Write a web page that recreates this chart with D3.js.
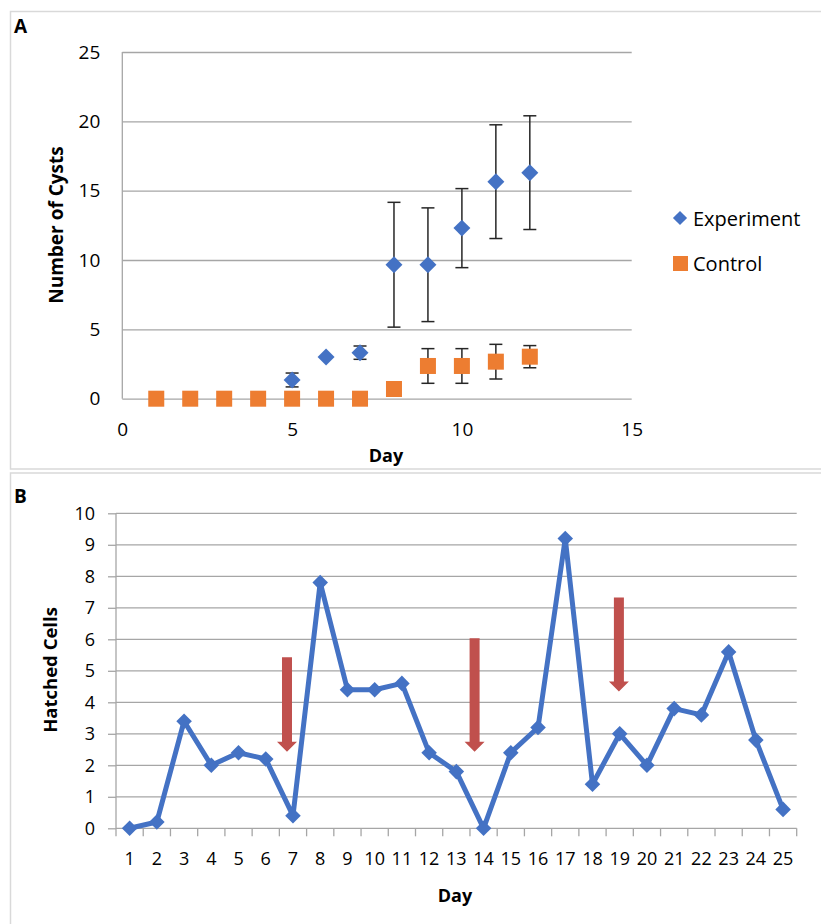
<!DOCTYPE html>
<html>
<head>
<meta charset="utf-8">
<script src="https://cdn.jsdelivr.net/npm/d3@7"></script>
<style>
  html, body { margin: 0; padding: 0; background: #fff; }
  svg { display: block; }
  text { font-family: "Open Sans", "DejaVu Sans", sans-serif; fill: #000; }
</style>
</head>
<body>
<svg id="chart" width="821" height="924"></svg>
<script>
// ---------------- Panel A data ----------------
const daysA = [1, 2, 3, 4, 5, 6, 7, 8, 9, 10, 11, 12];
const experimentDays = [5, 6, 7, 8, 9, 10, 11, 12];
const experimentValues = [1.35, 3.0, 3.32, 9.66, 9.66, 12.3, 15.65, 16.3];
const experimentErrors = [0.5, 0, 0.48, 4.5, 4.1, 2.85, 4.1, 4.1];
const controlValues = [0, 0, 0, 0, 0, 0, 0, 0.7, 2.36, 2.36, 2.67, 3.03];
const controlErrors = [0, 0, 0, 0, 0, 0, 0, 0, 1.25, 1.25, 1.25, 0.8];
const xTicksA = [0, 5, 10, 15];
const yTicksA = [0, 5, 10, 15, 20, 25];
const legendLabels = ["Experiment", "Control"];

// ---------------- Panel B data ----------------
const daysB = [1, 2, 3, 4, 5, 6, 7, 8, 9, 10, 11, 12, 13, 14, 15, 16, 17, 18, 19, 20, 21, 22, 23, 24, 25];
const hatchedCells = [0, 0.2, 3.4, 2.0, 2.4, 2.2, 0.4, 7.8, 4.4, 4.4, 4.6, 2.4, 1.8, 0, 2.4, 3.2, 9.2, 1.4, 3.0, 2.0, 3.8, 3.6, 5.6, 2.8, 0.6];
const yTicksB = [0, 1, 2, 3, 4, 5, 6, 7, 8, 9, 10];
// red arrows: position (in day units, fractional = between categories), start and tip value
const arrowDays = [6.78, 13.67, 18.97];
const arrowFrom = [5.43, 6.03, 7.33];
const arrowTo = [2.43, 2.43, 4.34];

const BLUE = "#4472C4", ORANGE = "#ED7D31", RED = "#C0504D";
const GRID = "#a6a6a6", FRAME = "#d9d9d9";

const svg = d3.select("#chart");
svg.append("rect").attr("width", 821).attr("height", 924).attr("fill", "#fff");

// panel frames
svg.append("rect").attr("x", 10.5).attr("y", 11.5).attr("width", 820).attr("height", 457.5)
  .attr("fill", "none").attr("stroke", FRAME).attr("stroke-width", 1.5);
svg.append("rect").attr("x", 10.5).attr("y", 473).attr("width", 820).attr("height", 460)
  .attr("fill", "none").attr("stroke", FRAME).attr("stroke-width", 1.5);

// ================= Panel A =================
const xA = d3.scaleLinear().domain([0, 15]).range([122.3, 631.7]);
const yA = d3.scaleLinear().domain([0, 25]).range([398.7, 52]);

svg.append("text").attr("x", 14).attr("y", 33).attr("font-size", 19).attr("font-weight", 700).text("A");

const gA = svg.append("g");
// gridlines + y labels
const yAxisA = gA.append("g").attr("transform", `translate(${xA(0)},0)`)
  .call(d3.axisLeft(yA).tickValues(yTicksA).tickSize(-(xA(15) - xA(0))).tickPadding(22));
yAxisA.select(".domain").remove();
yAxisA.selectAll(".tick line").attr("stroke", GRID).attr("stroke-width", 1.3);
yAxisA.selectAll(".tick text").attr("font-size", 19).attr("font-family", "Open Sans").attr("fill", "#000");
// y axis line
gA.append("line").attr("x1", xA(0)).attr("x2", xA(0)).attr("y1", yA(25)).attr("y2", yA(0))
  .attr("stroke", GRID).attr("stroke-width", 1.3);

const xAxisA = gA.append("g").attr("transform", `translate(0,${yA(0)})`)
  .call(d3.axisBottom(xA).tickValues(xTicksA).tickSize(0).tickPadding(24));
xAxisA.select(".domain").remove();
xAxisA.selectAll(".tick text").attr("font-size", 19).attr("font-family", "Open Sans").attr("fill", "#000");

gA.append("text").attr("x", 386).attr("y", 462).attr("text-anchor", "middle")
  .attr("font-size", 18).attr("font-weight", 700).text("Day");
gA.append("text").attr("transform", `translate(63,225) rotate(-90)`)
  .attr("text-anchor", "middle").attr("font-size", 19).attr("font-weight", 700).text("Number of Cysts");

// error bars helper
function errorBars(g, xs, vals, errs) {
  const cap = 6.5;
  xs.forEach((d, i) => {
    const e = errs[i];
    if (!e) return;
    const x = xA(d), y1 = yA(vals[i] + e), y2 = yA(vals[i] - e);
    g.append("line").attr("x1", x).attr("x2", x).attr("y1", y1).attr("y2", y2)
      .attr("stroke", "#262626").attr("stroke-width", 1.5);
    [y1, y2].forEach(y => g.append("line").attr("x1", x - cap).attr("x2", x + cap).attr("y1", y).attr("y2", y)
      .attr("stroke", "#262626").attr("stroke-width", 1.5));
  });
}
errorBars(gA, daysA, controlValues, controlErrors);
errorBars(gA, experimentDays, experimentValues, experimentErrors);

// control squares
gA.selectAll("rect.ctrl").data(daysA).enter().append("rect").attr("class", "ctrl")
  .attr("x", d => xA(d) - 8).attr("y", (d, i) => yA(controlValues[i]) - 8)
  .attr("width", 16).attr("height", 16).attr("fill", ORANGE);
// experiment diamonds
const diamondA = d3.symbol().type(d3.symbolSquare).size(144);
gA.selectAll("path.exp").data(experimentDays).enter().append("path").attr("class", "exp")
  .attr("d", diamondA)
  .attr("transform", (d, i) => `translate(${xA(d)},${yA(experimentValues[i])}) rotate(45)`)
  .attr("fill", BLUE);

// legend
const legend = svg.append("g");
legend.append("path").attr("d", d3.symbol().type(d3.symbolSquare).size(100))
  .attr("transform", "translate(680,218) rotate(45)").attr("fill", BLUE);
legend.append("text").attr("x", 693).attr("y", 226).attr("font-size", 20).text(legendLabels[0]);
legend.append("rect").attr("x", 673).attr("y", 256).attr("width", 15).attr("height", 15).attr("fill", ORANGE);
legend.append("text").attr("x", 693).attr("y", 271).attr("font-size", 20).text(legendLabels[1]);

// ================= Panel B =================
const xB = d3.scaleBand().domain(daysB).range([116, 796.7]);
const yB = d3.scaleLinear().domain([0, 10]).range([828.3, 513.3]);
const bw = xB.bandwidth();

svg.append("text").attr("x", 14).attr("y", 503).attr("font-size", 19).attr("font-weight", 700).text("B");

const gB = svg.append("g");
const yAxisB = gB.append("g").attr("transform", `translate(116,0)`)
  .call(d3.axisLeft(yB).tickValues(yTicksB).tickSize(8).tickPadding(13));
yAxisB.select(".domain").remove();
yAxisB.selectAll(".tick line").attr("stroke", GRID).attr("stroke-width", 1.3);
yAxisB.selectAll(".tick text").attr("font-size", 18).attr("font-family", "Open Sans").attr("fill", "#000");
// horizontal gridlines
gB.selectAll("line.gridB").data(yTicksB).enter().append("line").attr("class", "gridB")
  .attr("x1", 116).attr("x2", 796.7).attr("y1", d => yB(d)).attr("y2", d => yB(d))
  .attr("stroke", GRID).attr("stroke-width", 1.3);
gB.append("line").attr("x1", 116).attr("x2", 116).attr("y1", yB(10)).attr("y2", yB(0))
  .attr("stroke", GRID).attr("stroke-width", 1.3);

const xAxisB = gB.append("g").attr("transform", `translate(0,${yB(0)})`)
  .call(d3.axisBottom(xB).tickSize(0).tickPadding(23.5));
xAxisB.select(".domain").remove();
xAxisB.selectAll(".tick text").attr("font-size", 18).attr("font-family", "Open Sans").attr("fill", "#000");
// category boundary ticks
const boundaries = daysB.map(d => xB(d)).concat([xB.range()[1]]);
gB.selectAll("line.tickB").data(boundaries).enter().append("line").attr("class", "tickB")
  .attr("x1", d => d).attr("x2", d => d).attr("y1", yB(0)).attr("y2", yB(0) + 8)
  .attr("stroke", GRID).attr("stroke-width", 1.3);

gB.append("text").attr("x", 455).attr("y", 902).attr("text-anchor", "middle")
  .attr("font-size", 18).attr("font-weight", 700).text("Day");
gB.append("text").attr("transform", `translate(57,670) rotate(-90)`)
  .attr("text-anchor", "middle").attr("font-size", 18.5).attr("font-weight", 700).text("Hatched Cells");

// red arrows
const dayToX = d => xB.range()[0] + (d - 0.5) * bw;
arrowDays.forEach((d, i) => {
  const cx = dayToX(d), yTop = yB(arrowFrom[i]), yTip = yB(arrowTo[i]);
  const sw = 5, hw = 10, hl = 10;
  const p = d3.path();
  p.moveTo(cx - sw, yTop); p.lineTo(cx + sw, yTop); p.lineTo(cx + sw, yTip - hl);
  p.lineTo(cx + hw, yTip - hl); p.lineTo(cx, yTip); p.lineTo(cx - hw, yTip - hl);
  p.lineTo(cx - sw, yTip - hl); p.closePath();
  gB.append("path").attr("d", p.toString()).attr("fill", RED);
});

// line
const line = d3.line().x((d, i) => xB(daysB[i]) + bw / 2).y(d => yB(d));
gB.append("path").datum(hatchedCells).attr("d", line).attr("fill", "none")
  .attr("stroke", BLUE).attr("stroke-width", 5).attr("stroke-linejoin", "round");
const diamondB = d3.symbol().type(d3.symbolSquare).size(121);
gB.selectAll("path.ptB").data(hatchedCells).enter().append("path").attr("class", "ptB")
  .attr("d", diamondB)
  .attr("transform", (d, i) => `translate(${xB(daysB[i]) + bw / 2},${yB(d)}) rotate(45)`)
  .attr("fill", BLUE);
</script>
</body>
</html>
